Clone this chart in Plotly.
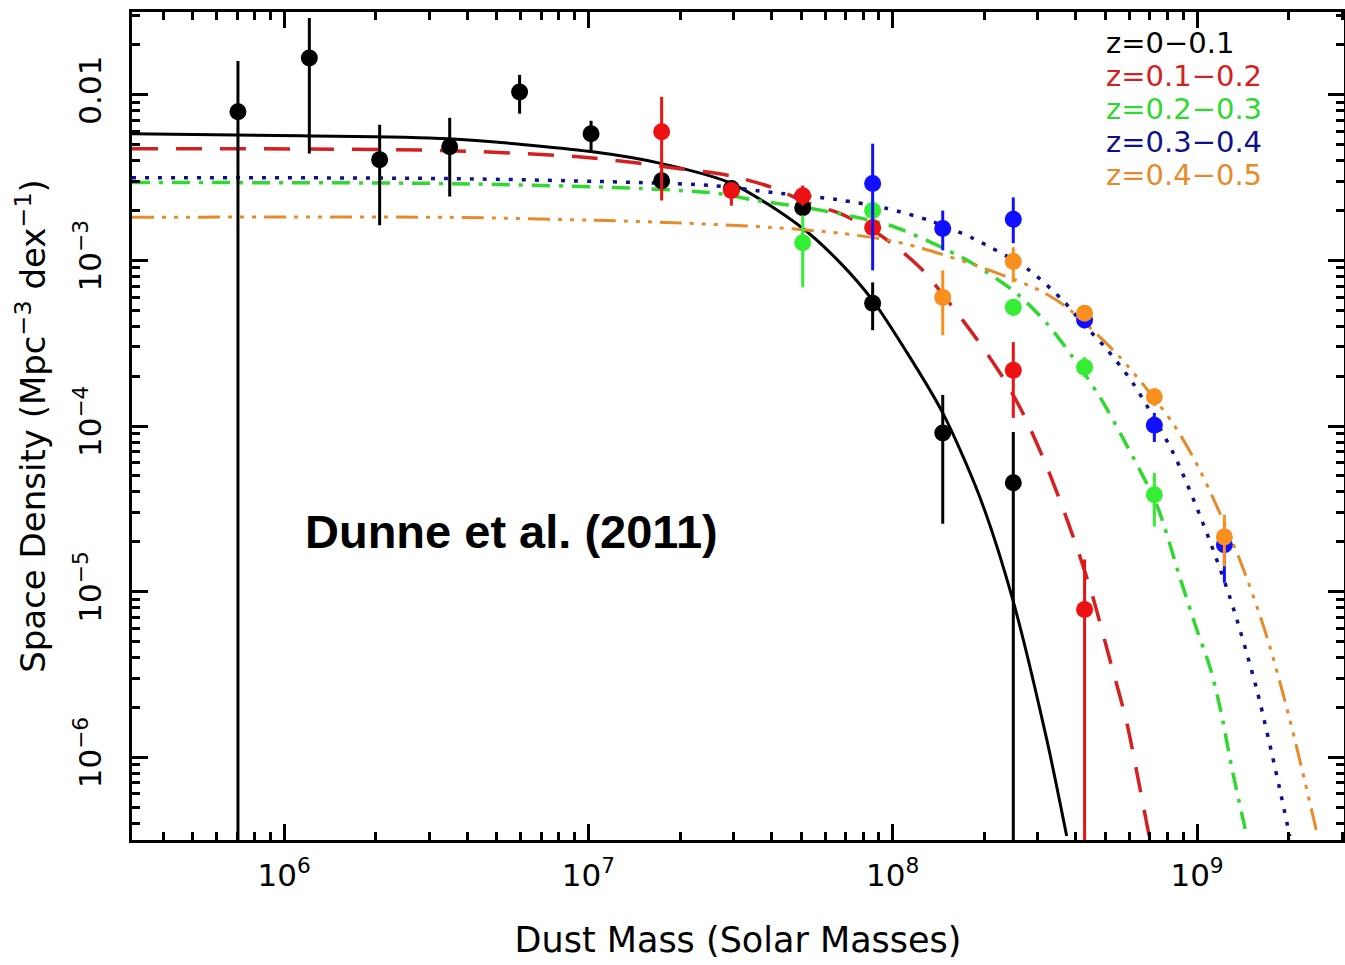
import plotly.graph_objects as go

# ---------------- data: binned dust mass function points ----------------
z1_x = [7.05e5, 1.21e6, 2.06e6, 3.50e6, 5.94e6, 1.02e7, 1.74e7, 2.95e7, 5.06e7, 8.59e7, 1.46e8, 2.49e8]
z1_y = [7.90e-3, 1.67e-2, 4.06e-3, 4.86e-3, 1.04e-2, 5.82e-3, 3.03e-3, 2.72e-3, 2.08e-3, 5.51e-4, 9.08e-5, 4.54e-5]
z1_hi = [1.60e-2, 2.91e-2, 6.59e-3, 7.26e-3, 1.32e-2, 6.97e-3, 3.48e-3, 3.03e-3, 2.36e-3, 7.36e-4, 1.54e-4, 9.2e-5]
z1_lo = [1e-9, 4.42e-3, 1.63e-3, 2.43e-3, 7.69e-3, 4.60e-3, 2.64e-3, 2.36e-3, 1.84e-3, 3.79e-4, 2.57e-5, 1e-9]

z2_x = [1.74e7, 2.95e7, 5.06e7, 8.59e7, 2.49e8, 4.27e8]
z2_y = [5.98e-3, 2.64e-3, 2.46e-3, 1.58e-3, 2.17e-4, 7.80e-6]
z2_hi = [9.72e-3, 2.95e-3, 2.83e-3, 1.87e-3, 3.21e-4, 1.56e-5]
z2_lo = [2.30e-3, 2.14e-3, 2.14e-3, 1.34e-3, 1.12e-4, 1e-9]

z3_x = [5.06e7, 8.59e7, 2.49e8, 4.27e8, 7.24e8]
z3_y = [1.28e-3, 2.00e-3, 5.21e-4, 2.26e-4, 3.84e-5]
z3_hi = [1.87e-3, 2.36e-3, 5.82e-4, 2.60e-4, 5.21e-5]
z3_lo = [6.87e-4, 1.69e-3, 4.61e-4, 1.97e-4, 2.47e-5]

z4_x = [8.59e7, 1.46e8, 2.49e8, 4.27e8, 7.24e8, 1.23e9]
z4_y = [2.91e-3, 1.56e-3, 1.77e-3, 4.36e-4, 1.01e-4, 1.92e-5]
z4_hi = [5.07e-3, 2.00e-3, 2.40e-3, 4.87e-4, 1.20e-4, 2.36e-5]
z4_lo = [8.71e-4, 1.15e-3, 1.27e-3, 3.89e-4, 8.01e-5, 1.13e-5]

z5_x = [1.46e8, 2.49e8, 4.27e8, 7.24e8, 1.23e9]
z5_y = [5.98e-4, 9.86e-4, 4.80e-4, 1.50e-4, 2.14e-5]
z5_hi = [8.71e-4, 1.20e-3, 5.36e-4, 1.69e-4, 2.91e-5]
z5_lo = [3.53e-4, 7.36e-4, 4.30e-4, 1.32e-4, 1.42e-5]

# ---------------- data: fitted curves ----------------
fit1_x = [3.16e5, 1.125e6, 3.45e6, 1.018e7, 1.741e7, 2.958e7, 5.02e7, 6.70e7, 8.59e7, 1.112e8, 1.460e8, 1.932e8, 2.480e8, 3.207e8, 3.73e8]
fit1_y = [5.82e-3, 5.66e-3, 5.43e-3, 4.54e-3, 3.84e-3, 2.91e-3, 1.58e-3, 9.73e-4, 5.74e-4, 2.79e-4, 1.20e-4, 3.73e-5, 8.95e-6, 1.28e-6, 3.34e-7]

fit2_x = [3.16e5, 3.45e6, 1.010e7, 1.995e7, 2.913e7, 4.03e7, 5.22e7, 6.70e7, 8.59e7, 1.031e8, 1.255e8, 1.575e8, 1.932e8, 2.299e8, 2.674e8, 3.111e8, 3.54e8, 4.02e8, 4.54e8, 5.17e8, 5.87e8, 6.34e8, 6.99e8]
fit2_y = [4.73e-3, 4.60e-3, 4.17e-3, 3.58e-3, 3.25e-3, 2.75e-3, 2.23e-3, 1.92e-3, 1.52e-3, 1.20e-3, 8.71e-4, 5.21e-4, 3.16e-4, 1.97e-4, 1.20e-4, 6.50e-5, 3.58e-5, 1.87e-5, 9.33e-6, 3.89e-6, 1.63e-6, 8.13e-7, 3.21e-7]

fit3_x = [3.16e5, 3.45e6, 1.474e7, 2.64e7, 3.57e7, 5.22e7, 7.61e7, 9.77e7, 1.293e8, 1.832e8, 2.556e8, 3.207e8, 3.904e8, 4.79e8, 5.70e8, 7.37e8, 8.77e8, 9.98e8, 1.101e9, 1.188e9, 1.310e9, 1.457e9]
fit3_y = [2.95e-3, 2.91e-3, 2.72e-3, 2.54e-3, 2.30e-3, 2.08e-3, 1.82e-3, 1.63e-3, 1.32e-3, 9.59e-4, 6.32e-4, 4.17e-4, 2.61e-4, 1.50e-4, 8.47e-5, 3.34e-5, 1.23e-5, 5.90e-6, 3.53e-6, 2.03e-6, 8.13e-7, 3.34e-7]

fit4_x = [3.16e5, 3.45e6, 1.474e7, 2.561e7, 4.03e7, 6.55e7, 9.55e7, 1.323e8, 1.832e8, 2.756e8, 3.62e8, 4.21e8, 5.05e8, 6.15e8, 8.32e8, 1.044e9, 1.280e9, 1.571e9, 1.870e9, 2.017e9]
fit4_y = [3.16e-3, 3.12e-3, 2.95e-3, 2.83e-3, 2.57e-3, 2.33e-3, 2.06e-3, 1.74e-3, 1.36e-3, 8.95e-4, 5.74e-4, 4.17e-4, 2.91e-4, 1.82e-4, 6.97e-5, 2.61e-5, 9.33e-6, 2.57e-6, 6.41e-7, 3.34e-7]

fit5_x = [3.16e5, 3.45e6, 1.148e7, 1.891e7, 4.03e7, 6.70e7, 9.77e7, 1.255e8, 2.084e8, 3.04e8, 3.73e8, 5.57e8, 8.32e8, 1.021e9, 1.381e9, 1.695e9, 2.017e9, 2.474e9]
fit5_y = [1.82e-3, 1.82e-3, 1.74e-3, 1.69e-3, 1.58e-3, 1.46e-3, 1.32e-3, 1.18e-3, 8.71e-4, 6.59e-4, 5.21e-4, 2.61e-4, 1.04e-4, 5.43e-5, 1.56e-5, 5.36e-6, 1.69e-6, 3.53e-7]

legend_labels = ["z=0\u22120.1", "z=0.1\u22120.2", "z=0.2\u22120.3", "z=0.3\u22120.4", "z=0.4\u22120.5"]
x_tick_vals = [1e6, 1e7, 1e8, 1e9]
x_tick_text = ["10<sup>6</sup>", "10<sup>7</sup>", "10<sup>8</sup>", "10<sup>9</sup>"]
y_tick_vals = [1e-2, 1e-3, 1e-4, 1e-5, 1e-6]
y_tick_text = ["0.01", "10<sup>\u22123</sup>", "10<sup>\u22124</sup>", "10<sup>\u22125</sup>", "10<sup>\u22126</sup>"]

# ---------------- styles ----------------
FONT = "DejaVu Sans"
W, H = 1345, 965
L, R, T, B = 132, 1, 12, 125

fig = go.Figure()

fits = [
    (fit1_x, fit1_y, "#000000", "solid", 3),
    (fit2_x, fit2_y, "#d42020", "26px,18px", 3.5),
    (fit3_x, fit3_y, "#30d830", "18px,9px,4px,9px", 3.5),
    (fit4_x, fit4_y, "#10108a", "4px,9px", 3.5),
    (fit5_x, fit5_y, "#e88a2a", "22px,8px,4px,8px,4px,8px,4px,8px", 3),
]
for fx, fy, col, dash, w in fits:
    fig.add_trace(go.Scatter(x=fx, y=fy, mode="lines", line=dict(color=col, width=w, dash=dash, shape="spline", smoothing=0.8),
                             showlegend=False, hoverinfo="skip"))

points = [
    (z1_x, z1_y, z1_hi, z1_lo, "#000000"),
    (z2_x, z2_y, z2_hi, z2_lo, "#ee1111"),
    (z3_x, z3_y, z3_hi, z3_lo, "#33ee33"),
    (z4_x, z4_y, z4_hi, z4_lo, "#1010ff"),
    (z5_x, z5_y, z5_hi, z5_lo, "#f7901e"),
]
for px, py, hi, lo, col in points:
    plus = [h - v for h, v in zip(hi, py)]
    minus = [v - l for v, l in zip(py, lo)]
    fig.add_trace(go.Scatter(
        x=px, y=py, mode="markers",
        marker=dict(color=col, size=17, line=dict(width=0)),
        error_y=dict(type="data", array=plus, arrayminus=minus, symmetric=False,
                     color=col, thickness=3, width=0),
        showlegend=False, hoverinfo="skip"))

pw = W - L - R
ph = H - T - B


def paper_x(px):
    return (px - L) / pw


def paper_y(py):
    return (H - B - py) / ph


legend_cols = ["#000000", "#d42020", "#30d830", "#10108a", "#e88a2a"]
legend_rows = [43, 76, 109, 142, 175]
for lab, col, ry in zip(legend_labels, legend_cols, legend_rows):
    fig.add_annotation(x=paper_x(1104), y=paper_y(ry), xref="paper", yref="paper",
                       text=lab, showarrow=False, xanchor="left", yanchor="middle",
                       font=dict(family=FONT, size=29, color=col))

fig.add_annotation(x=paper_x(511), y=paper_y(531), xref="paper", yref="paper",
                   text="<b>Dunne et al. (2011)</b>", showarrow=False,
                   xanchor="center", yanchor="middle",
                   font=dict(family="Liberation Sans, Arial", size=47, color="#000000"))

x_minor = [m * 10 ** e for e in range(5, 10) for m in range(2, 10)]
y_minor = [m * 10.0 ** e for e in range(-7, -1) for m in range(2, 10)]

axis_common = dict(
    showline=True, linewidth=3, linecolor="#000000", mirror="ticks",
    ticks="inside", tickwidth=3, tickcolor="#000000",
    showgrid=False, zeroline=False,
    tickfont=dict(family=FONT, size=31, color="#000000"),
)

fig.update_xaxes(type="log", range=[5.5, 9.483], tickmode="array",
                 tickvals=x_tick_vals, ticktext=x_tick_text, ticklen=16,
                 minor=dict(tickmode="array", tickvals=x_minor, ticks="inside", ticklen=8,
                            tickwidth=2.5, tickcolor="#000000", showgrid=False),
                 title=dict(text="Dust Mass (Solar Masses)", standoff=36,
                            font=dict(family=FONT, size=35, color="#000000")),
                 ticklabelstandoff=6,
                 **axis_common)
fig.update_yaxes(type="log", range=[-6.5, -1.5], tickmode="array",
                 tickvals=y_tick_vals, ticktext=y_tick_text, ticklen=16, tickangle=-90,
                 minor=dict(tickmode="array", tickvals=y_minor, ticks="inside", ticklen=8,
                            tickwidth=2.5, tickcolor="#000000", showgrid=False),
                 title=dict(text="Space Density (Mpc<sup>\u22123</sup> dex<sup>\u22121</sup>)", standoff=12,
                            font=dict(family=FONT, size=34, color="#000000")),
                 ticklabelstandoff=16,
                 **axis_common)

fig.update_layout(
    width=W, height=H,
    margin=dict(l=L, r=R, t=T, b=B, autoexpand=False),
    paper_bgcolor="#ffffff", plot_bgcolor="#ffffff",
    showlegend=False,
)

fig.write_html("out.html")
